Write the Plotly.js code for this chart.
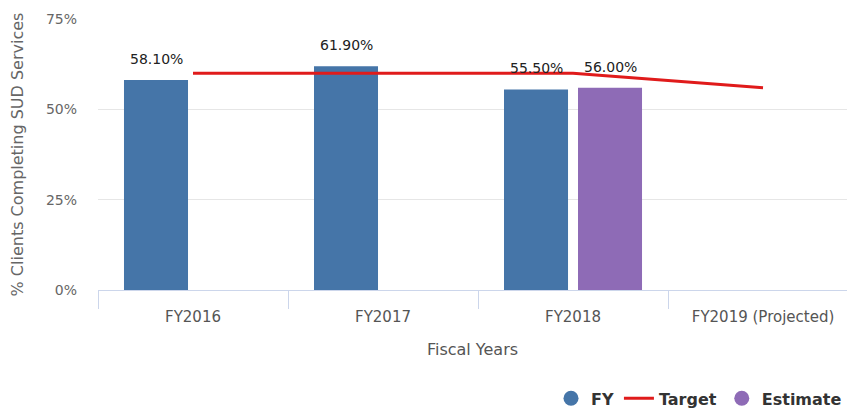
<!DOCTYPE html>
<html>
<head>
<meta charset="utf-8">
<script src="https://cdn.plot.ly/plotly-3.0.1.min.js"></script>
<style>html,body{margin:0;padding:0;background:#fff;}#chart{width:847px;height:416px;}</style>
</head>
<body>
<div id="chart"></div>
<script>
const categories = ["FY2016", "FY2017", "FY2018", "FY2019 (Projected)"];
const fyValues = [58.1, 61.9, 55.5, null];
const estimateValues = [null, null, 56.0, null];
const targetValues = [60, 60, 60, 56];
const yTickVals = [0, 25, 50, 75];
const yTickText = ["0%", "25%", "50%", "75%"];

const blue = "#4575a8";
const purple = "#8e6bb6";
const red = "#e01b1b";
const font = "'DejaVu Sans', Verdana, sans-serif";

const data = [
  {type: "scatter", mode: "lines", x: categories, y: targetValues, name: "Target",
   line: {color: red, width: 3}, showlegend: true, legendrank: 2, hoverinfo: "skip"},
  {type: "bar", x: categories, y: fyValues, name: "FY", marker: {color: blue},
   showlegend: false, hoverinfo: "skip"},
  {type: "bar", x: categories, y: estimateValues, name: "Estimate", marker: {color: purple},
   showlegend: false, hoverinfo: "skip"},
  {type: "scatter", mode: "markers", x: [null], y: [null], name: "FY",
   marker: {color: blue, size: 15, symbol: "circle"}, legendrank: 1},
  {type: "scatter", mode: "markers", x: [null], y: [null], name: "Estimate",
   marker: {color: purple, size: 15, symbol: "circle"}, legendrank: 3}
];

const annotations = [];
function addLabels(vals, shift) {
  vals.forEach((v, i) => {
    if (v === null) return;
    annotations.push({x: categories[i], y: v, xref: "x", yref: "y",
      text: v.toFixed(2) + "%", showarrow: false, xshift: shift, yshift: 21,
      yanchor: "middle", font: {family: font, size: 14, color: "#222"}});
  });
}
addLabels(fyValues, -37);
addLabels(estimateValues, 37);

const layout = {
  width: 847, height: 416,
  margin: {l: 98, r: 0, t: 19, b: 124},
  paper_bgcolor: "#fff", plot_bgcolor: "#fff",
  barmode: "group", bargap: 0.221, bargroupgap: 0.135,
  font: {family: font, color: "#666"},
  xaxis: {
    type: "category", range: [-0.5, 3.442],
    tickson: "boundaries", ticks: "outside", ticklen: 18, tickcolor: "#ccd6eb",
    showline: true, linecolor: "#ccd6eb", linewidth: 1,
    showgrid: false, zeroline: false,
    ticklabelstandoff: 13,
    tickfont: {size: 15, color: "#555", family: font},
    title: {text: "Fiscal Years", font: {size: 16, color: "#555", family: font}, standoff: 18},
    fixedrange: true
  },
  yaxis: {
    range: [0, 75], tickvals: yTickVals, ticktext: yTickText,
    showgrid: true, gridcolor: "#e6e6e6", zeroline: false, showline: false,
    ticklabelstandoff: 20,
    tickfont: {size: 14, color: "#666", family: font},
    title: {text: "% Clients Completing SUD Services", font: {size: 16, color: "#666", family: font}, standoff: 18},
    fixedrange: true
  },
  legend: {orientation: "h", x: 1, xanchor: "right", y: -0.40, yanchor: "middle",
    font: {size: 16, color: "#333", family: font, weight: "bold"},
    itemwidth: 30, traceorder: "normal"},
  annotations: annotations,
  showlegend: true
};

Plotly.newPlot("chart", data, layout, {displayModeBar: false, staticPlot: true});
</script>
</body>
</html>
